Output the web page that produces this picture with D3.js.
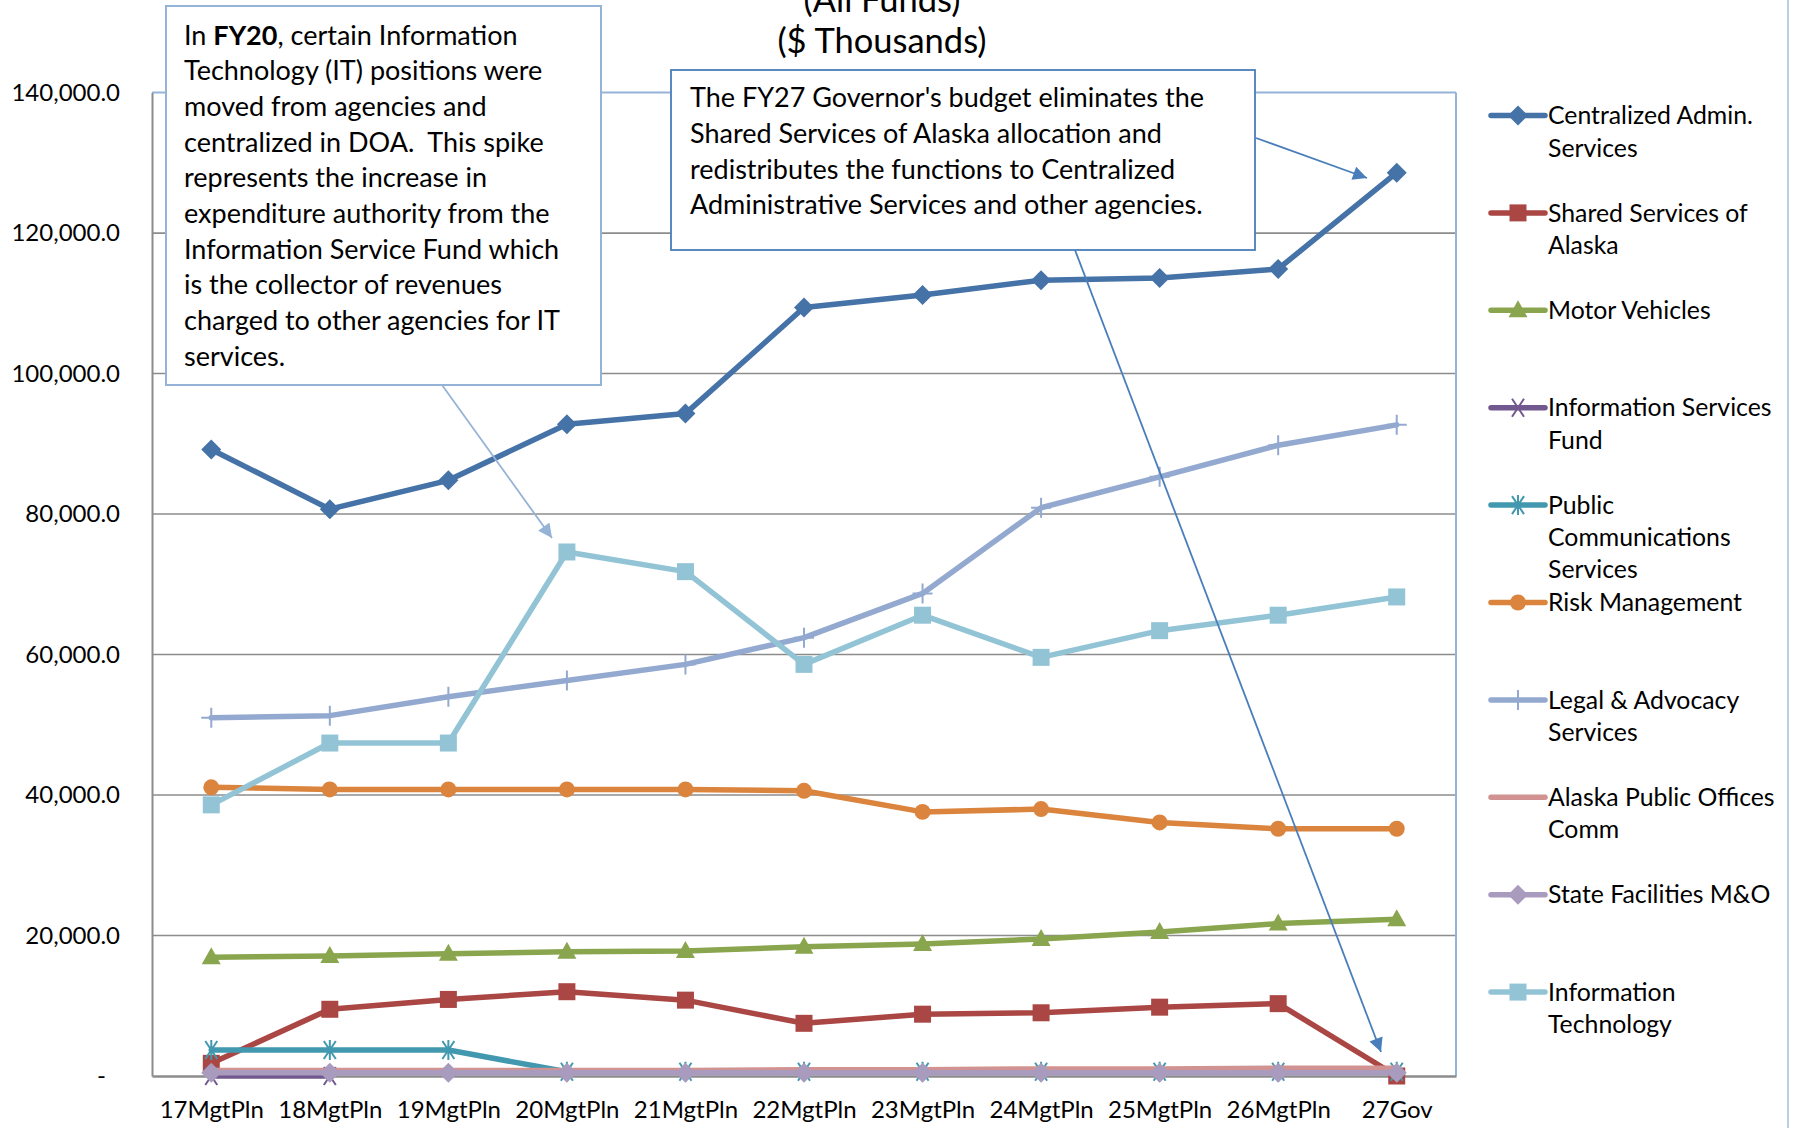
<!DOCTYPE html>
<html>
<head>
<meta charset="utf-8">
<script src="https://cdn.jsdelivr.net/npm/d3@7"></script>
<style>
  html, body { margin: 0; padding: 0; background: #ffffff; }
  svg { display: block; font-family: Lato, "Open Sans", sans-serif; }
  text { white-space: pre; }
</style>
</head>
<body>
<svg id="chart" width="1793" height="1128"></svg>
<script>
const categories = ["17MgtPln","18MgtPln","19MgtPln","20MgtPln","21MgtPln","22MgtPln","23MgtPln","24MgtPln","25MgtPln","26MgtPln","27Gov"];
const yTicks = [0, 20000, 40000, 60000, 80000, 100000, 120000, 140000];

const centralizedAdmin   = [89200, 80700, 84800, 92800, 94300, 109400, 111200, 113300, 113600, 114900, 128600];
const sharedServices     = [1800, 9500, 10900, 12000, 10800, 7500, 8800, 9000, 9800, 10300, 0];
const motorVehicles      = [16900, 17100, 17400, 17700, 17800, 18400, 18800, 19500, 20500, 21700, 22300];
const infoServicesFund   = [0, 0, null, null, null, null, null, null, null, null, null];
const publicComm         = [3700, 3700, 3700, 600, 600, 600, 600, 600, 600, 600, 600];
const riskManagement     = [41100, 40800, 40800, 40800, 40800, 40600, 37600, 38000, 36100, 35200, 35200];
const legalAdvocacy      = [51000, 51300, 54000, 56300, 58600, 62400, 68700, 80900, 85300, 89800, 92700];
const alaskaPublicOffices= [800, 800, 800, 800, 800, 900, 900, 1000, 1000, 1100, 1100];
const stateFacilities    = [450, 450, 450, 450, 450, 450, 450, 450, 450, 450, 450];
const infoTechnology     = [38600, 47400, 47400, 74600, 71800, 58600, 65600, 59600, 63400, 65600, 68200];

const seriesNames = ["Centralized Admin. Services","Shared Services of Alaska","Motor Vehicles","Information Services Fund","Public Communications Services","Risk Management","Legal & Advocacy Services","Alaska Public Offices Comm","State Facilities M&O","Information Technology"];
const legendLines = [["Centralized Admin.","Services"],["Shared Services of","Alaska"],["Motor Vehicles"],["Information Services","Fund"],["Public","Communications","Services"],["Risk Management"],["Legal & Advocacy","Services"],["Alaska Public Offices","Comm"],["State Facilities M&O"],["Information","Technology"]];
const seriesColors = ["#4572a7","#aa4643","#89a54e","#71588f","#4198af","#db843d","#93a9cf","#d19392","#a99bbd","#92c4d6"];
const seriesMarkers = ["diamond","square","triangle","x","asterisk","circle","plus","none","diamond","square"];
const seriesValues = [centralizedAdmin, sharedServices, motorVehicles, infoServicesFund, publicComm, riskManagement, legalAdvocacy, alaskaPublicOffices, stateFacilities, infoTechnology];

const note1Lines = [[["In ",false],["FY20",true],[", certain Information",false]],[["Technology (IT) positions were",false]],[["moved from agencies and",false]],[["centralized in DOA.  This spike",false]],[["represents the increase in",false]],[["expenditure authority from the",false]],[["Information Service Fund which",false]],[["is the collector of revenues",false]],[["charged to other agencies for IT",false]],[["services.",false]]];
const note2Lines = ["The FY27 Governor's budget eliminates the","Shared Services of Alaska allocation and","redistributes the functions to Centralized","Administrative Services and other agencies."];
const titleLines = ["(All Funds)","($ Thousands)"];

const svg = d3.select("#chart");
const L = 152, R = 1456, T = 92.6, B = 1076;

const x = d3.scalePoint().domain(categories).range([L, R]).padding(0.5);
const y = d3.scaleLinear().domain([0, 140000]).range([B, T]);

function markerPath(type) {
  switch (type) {
    case "diamond": return "M0,-10L10,0L0,10L-10,0Z";
    case "square": return "M-8.5,-8.5H8.5V8.5H-8.5Z";
    case "triangle": return "M0,-10L9.5,7L-9.5,7Z";
    case "circle": return d3.symbol(d3.symbolCircle, 200)();
    case "x": return "M-6,-9L6,9M6,-9L-6,9";
    case "asterisk": return "M-6,-9L6,9M6,-9L-6,9M0,-10L0,10";
    case "plus": return "M0,-10L0,10M-10,0L10,0";
  }
  return null;
}
const strokeMarkers = new Set(["x","asterisk","plus"]);

// gridlines
const grid = svg.append("g");
grid.selectAll("line").data(yTicks.filter(d => d > 0 && d < 140000)).join("line")
  .attr("x1", L).attr("x2", R).attr("y1", d => y(d)).attr("y2", d => y(d))
  .attr("stroke", "#8c8c8c").attr("stroke-width", 1.6);

// plot border top/right
svg.append("line").attr("x1", L).attr("x2", R).attr("y1", T).attr("y2", T).attr("stroke", "#95b3d7").attr("stroke-width", 2);
svg.append("line").attr("x1", R).attr("x2", R).attr("y1", T).attr("y2", B).attr("stroke", "#95b3d7").attr("stroke-width", 2);
// outer chart border at right
svg.append("line").attr("x1", 1788).attr("x2", 1788).attr("y1", 0).attr("y2", 1128).attr("stroke", "#b9cde5").attr("stroke-width", 2);

// y axis
const yAxis = svg.append("g").attr("transform", `translate(${L},0)`)
  .call(d3.axisLeft(y).tickValues(yTicks).tickSize(0).tickPadding(32)
    .tickFormat(d => d === 0 ? "-" : d3.format(",.1f")(d)));
yAxis.select(".domain").attr("stroke", "#8c8c8c").attr("stroke-width", 2);
yAxis.selectAll("text").attr("font-size", 24).attr("fill", "#000").attr("font-family", "Lato, sans-serif");
yAxis.selectAll(".tick").filter(d => d === 0).select("text").attr("dx", -14);

// x axis
const xAxis = svg.append("g").attr("transform", `translate(0,${B})`)
  .call(d3.axisBottom(x).tickSize(0).tickPadding(25));
xAxis.select(".domain").attr("stroke", "#8c8c8c").attr("stroke-width", 2.5);
xAxis.selectAll("text").attr("font-size", 24).attr("fill", "#000").attr("font-family", "Lato, sans-serif");

// series
const lineGen = d3.line().defined(d => d.v !== null).x(d => x(d.c)).y(d => y(d.v));
seriesValues.forEach((vals, i) => {
  const pts = vals.map((v, j) => ({ c: categories[j], v }));
  const g = svg.append("g");
  g.append("path").datum(pts).attr("d", lineGen).attr("fill", "none")
    .attr("stroke", seriesColors[i]).attr("stroke-width", 5.5).attr("stroke-linejoin", "round").attr("stroke-linecap", "round");
  const mp = markerPath(seriesMarkers[i]);
  if (mp) {
    const isStroke = strokeMarkers.has(seriesMarkers[i]);
    g.selectAll("path.m").data(pts.filter(d => d.v !== null)).join("path").attr("class", "m")
      .attr("transform", d => `translate(${x(d.c)},${y(d.v)})`)
      .attr("d", mp)
      .attr("fill", isStroke ? "none" : seriesColors[i])
      .attr("stroke", seriesColors[i]).attr("stroke-width", isStroke ? 2 : 0);
  }
});

// title
svg.append("g").selectAll("text").data(titleLines).join("text")
  .attr("x", 882).attr("y", (d, i) => 3 + i * 41).attr("text-anchor", "middle").attr("dominant-baseline", "middle")
  .attr("font-size", 34.5).attr("fill", "#000").text(d => d);

// legend
const lg = svg.append("g");
seriesNames.forEach((name, i) => {
  const ly = 115.5 + i * 97.4;
  const g = lg.append("g").attr("transform", `translate(0,${ly})`);
  g.append("line").attr("x1", 1491).attr("x2", 1545).attr("y1", 0).attr("y2", 0)
    .attr("stroke", seriesColors[i]).attr("stroke-width", 5.5).attr("stroke-linecap", "round");
  const mp = markerPath(seriesMarkers[i]);
  if (mp) {
    const isStroke = strokeMarkers.has(seriesMarkers[i]);
    g.append("path").attr("transform", "translate(1518,0)").attr("d", mp)
      .attr("fill", isStroke ? "none" : seriesColors[i])
      .attr("stroke", seriesColors[i]).attr("stroke-width", isStroke ? 2 : 0);
  }
  g.selectAll("text").data(legendLines[i]).join("text")
    .attr("x", 1548).attr("y", (d, k) => 2.5 + k * 32.3).attr("dominant-baseline", "middle")
    .attr("font-size", 24.8).attr("fill", "#000").text(d => d);
});

// arrowheads
const defs = svg.append("defs");
[["ahLight","#95b3d7"],["ahDark","#4a7ebb"]].forEach(([id, col]) => {
  defs.append("marker").attr("id", id).attr("viewBox", "0 0 10 10").attr("refX", 10).attr("refY", 5)
    .attr("markerWidth", 17).attr("markerHeight", 14).attr("markerUnits", "userSpaceOnUse").attr("orient", "auto")
    .append("path").attr("d", "M0,0L10,5L0,10Z").attr("fill", col);
});

// note 1
const n1 = svg.append("g");
n1.append("rect").attr("x", 166).attr("y", 6).attr("width", 435).attr("height", 379)
  .attr("fill", "#fff").attr("stroke", "#95b3d7").attr("stroke-width", 2);
note1Lines.forEach((segs, k) => {
  const t = n1.append("text").attr("x", 184).attr("y", 37.5 + k * 35.7).attr("dominant-baseline", "middle")
    .attr("font-size", 27).attr("fill", "#000");
  segs.forEach(([s, b]) => t.append("tspan").attr("font-weight", b ? "bold" : "normal").text(s));
});
svg.append("line").attr("x1", 442).attr("y1", 385).attr("x2", 552).attr("y2", 538)
  .attr("stroke", "#95b3d7").attr("stroke-width", 1.8).attr("marker-end", "url(#ahLight)");

// note 2
const n2 = svg.append("g");
n2.append("rect").attr("x", 671).attr("y", 70).attr("width", 584).attr("height", 180)
  .attr("fill", "#fff").attr("stroke", "#4a7ebb").attr("stroke-width", 1.8);
n2.selectAll("text").data(note2Lines).join("text")
  .attr("x", 690).attr("y", (d, k) => 100.5 + k * 35.7).attr("dominant-baseline", "middle")
  .attr("font-size", 27).attr("fill", "#000").text(d => d);
svg.append("line").attr("x1", 1256).attr("y1", 138).attr("x2", 1367).attr("y2", 178)
  .attr("stroke", "#4a7ebb").attr("stroke-width", 1.8).attr("marker-end", "url(#ahDark)");
svg.append("line").attr("x1", 1075).attr("y1", 250).attr("x2", 1381).attr("y2", 1052)
  .attr("stroke", "#4a7ebb").attr("stroke-width", 1.8).attr("marker-end", "url(#ahDark)");
</script>
</body>
</html>
